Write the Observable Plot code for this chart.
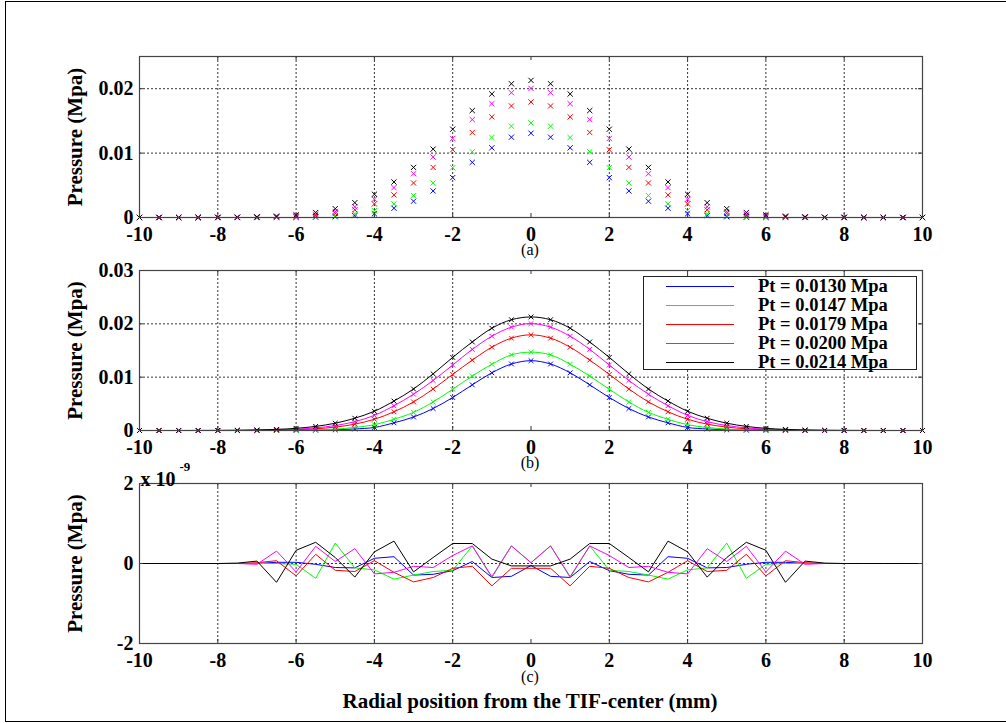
<!DOCTYPE html>
<html>
<head>
<meta charset="utf-8">
<script src="https://cdn.jsdelivr.net/npm/d3@7"></script>
<script src="https://cdn.jsdelivr.net/npm/@observablehq/plot@0.6"></script>
<style>
  body { margin: 0; background: #fff; }
  #fig { position: relative; width: 1006px; height: 723px; overflow: hidden; background: #fff;
         font-family: 'Liberation Serif', 'Times New Roman', serif; color: #000; }
  .panel { position: absolute; left: 0; }
  .lbl { position: absolute; left: 0; width: 1060px; text-align: center; white-space: nowrap; }
  #border { position: absolute; left: 5px; top: 1px; width: 1010px; height: 719px;
            border-top: 1.5px solid #000; border-left: 1.5px solid #000; border-bottom: 1.5px solid #000; }
  #legend { position: absolute; left: 643px; top: 276px; width: 274px; height: 94px; box-sizing: border-box;
            border: 1px solid #222; background: #fff; }
  .lrow { position: absolute; left: 0; height: 19px; width: 100%; }
  .lrow .sw { position: absolute; left: 22px; top: 9px; width: 68px; height: 0; border-top: 1px solid; }
  .lrow .tx { position: absolute; left: 114px; top: 0; font-size: 18.5px; font-weight: bold; line-height: 19px; }
</style>
</head>
<body>
<div id="fig">
  <div id="border"></div>
  <div id="pa" class="panel" style="top:0px"></div>
  <div id="pb" class="panel" style="top:250px"></div>
  <div id="pc" class="panel" style="top:450px"></div>
  <div class="lbl" style="top:244px;font-size:16px;line-height:12px;">(a)</div>
  <div class="lbl" style="top:457px;font-size:16px;line-height:12px;">(b)</div>
  <div class="lbl" style="top:671px;font-size:16px;line-height:12px;">(c)</div>
  <div class="lbl" style="top:690px;font-size:21px;font-weight:bold;line-height:22px;">Radial position from the TIF-center (mm)</div>
  <div id="legend"></div>
</div>
<script>
// ---------------- data ----------------
const radius = [-10, -9.5, -9, -8.5, -8, -7.5, -7, -6.5, -6, -5.5, -5, -4.5, -4, -3.5, -3, -2.5, -2, -1.5, -1, -0.5,
  0, 0.5, 1, 1.5, 2, 2.5, 3, 3.5, 4, 4.5, 5, 5.5, 6, 6.5, 7, 7.5, 8, 8.5, 9, 9.5, 10];

const seriesNames = ["Pt = 0.0130 Mpa", "Pt = 0.0147 Mpa", "Pt = 0.0179 Mpa", "Pt = 0.0200 Mpa", "Pt = 0.0214 Mpa"];
const seriesColors = ["#0000ff", "#00ff00", "#ff0000", "#ff00ff", "#000000"];

// Pressure (Mpa) for panels (a) and (b)
const p0130 = [0, 0, 0, 0, 0, 0, 0, 0, 0.00002, 0.00005, 0.00012, 0.00029, 0.00057, 0.00144, 0.00253, 0.00412, 0.00619, 0.00856, 0.01082, 0.01247,
  0.01309, 0.01247, 0.01082, 0.00856, 0.00619, 0.00412, 0.00253, 0.00144, 0.00057, 0.00029, 0.00012, 0.00005, 0.00002, 0, 0, 0, 0, 0, 0, 0, 0];
const p0147 = [0, 0, 0, 0, 0, 0, 0.00001, 0.00002, 0.00005, 0.00011, 0.00027, 0.00057, 0.00108, 0.00211, 0.00340, 0.00536, 0.00773, 0.01021, 0.01242, 0.01418,
  0.01469, 0.01418, 0.01242, 0.01021, 0.00773, 0.00536, 0.00340, 0.00211, 0.00108, 0.00057, 0.00027, 0.00011, 0.00005, 0.00002, 0.00001, 0, 0, 0, 0, 0, 0];
const p0179 = [0, 0, 0, 0, 0, 0.00001, 0.00003, 0.00006, 0.00015, 0.00032, 0.00064, 0.00119, 0.00211, 0.00351, 0.00536, 0.00778, 0.01052, 0.01320, 0.01562, 0.01732,
  0.01794, 0.01732, 0.01562, 0.01320, 0.01052, 0.00778, 0.00536, 0.00351, 0.00211, 0.00119, 0.00064, 0.00032, 0.00015, 0.00006, 0.00003, 0.00001, 0, 0, 0, 0, 0];
const p0200 = [0, 0, 0, 0, 0.00001, 0.00002, 0.00005, 0.00011, 0.00024, 0.00049, 0.00093, 0.00166, 0.00284, 0.00464, 0.00680, 0.00938, 0.01227, 0.01521, 0.01768, 0.01938,
  0.02005, 0.01938, 0.01768, 0.01521, 0.01227, 0.00938, 0.00680, 0.00464, 0.00284, 0.00166, 0.00093, 0.00049, 0.00024, 0.00011, 0.00005, 0.00002, 0.00001, 0, 0, 0, 0];
const p0214 = [0, 0, 0, 0.00001, 0.00002, 0.00004, 0.00010, 0.00021, 0.00041, 0.00077, 0.00137, 0.00230, 0.00361, 0.00552, 0.00778, 0.01062, 0.01371, 0.01660, 0.01918, 0.02077,
  0.02129, 0.02077, 0.01918, 0.01660, 0.01371, 0.01062, 0.00778, 0.00552, 0.00361, 0.00230, 0.00137, 0.00077, 0.00041, 0.00021, 0.00010, 0.00004, 0.00002, 0.00001, 0, 0, 0];

// Residuals for panel (c), in units of 1e-9 Mpa
const r0130 = [0, 0, 0, 0, 0, 0, 0, 0.03, 0.03, -0.02, -0.10, -0.11, 0.13, 0.17, -0.29, -0.27, -0.18, 0.05, -0.35, -0.32,
  -0.05, -0.32, -0.35, 0.05, -0.18, -0.27, -0.29, 0.17, 0.13, -0.11, -0.10, -0.02, 0.03, 0.03, 0, 0, 0, 0, 0, 0, 0];
const r0147 = [0, 0, 0, 0, 0, 0, 0, 0, -0.02, -0.37, 0.51, -0.11, -0.16, -0.39, -0.29, -0.20, -0.17, 0.44, -0.35, 0.44,
  0.02, 0.44, -0.35, 0.44, -0.17, -0.20, -0.29, -0.39, -0.16, -0.11, 0.51, -0.37, -0.02, 0, 0, 0, 0, 0, 0, 0, 0];
const r0179 = [0, 0, 0, 0, 0, 0, 0.02, 0.07, -0.31, 0.23, -0.17, -0.20, 0.07, -0.22, -0.46, -0.35, -0.12, -0.07, -0.56, -0.12,
  -0.12, -0.12, -0.56, -0.07, -0.12, -0.35, -0.46, -0.22, 0.07, -0.20, -0.17, 0.23, -0.31, 0.07, 0.02, 0, 0, 0, 0, 0, 0];
const r0200 = [0, 0, 0, 0, 0, 0, -0.02, 0.31, -0.21, 0.43, 0.05, 0.37, -0.26, -0.22, -0.07, -0.10, 0.20, 0.44, -0.33, 0.44,
  0.02, 0.44, -0.33, 0.44, 0.20, -0.10, -0.07, -0.22, -0.26, 0.37, 0.05, 0.43, -0.21, 0.31, -0.02, 0, 0, 0, 0, 0, 0];
const r0214 = [0, 0, 0, 0, 0, 0.01, 0.06, -0.47, 0.33, 0.53, 0.15, -0.34, 0.29, 0.56, -0.21, 0.15, 0.50, 0.50, 0.11, -0.06,
  -0.06, -0.06, 0.11, 0.50, 0.50, 0.15, -0.21, 0.56, 0.29, -0.34, 0.15, 0.53, 0.33, -0.47, 0.06, 0.01, 0, 0, 0, 0, 0];

const xTicks = [-10, -8, -6, -4, -2, 0, 2, 4, 6, 8, 10];
const xGrid = [-8, -6, -4, -2, 2, 4, 6, 8];
const yTicksA = [0, 0.01, 0.02];
const yTicksB = [0, 0.01, 0.02, 0.03];
const yTicksC = [-2, 0, 2];

const pressure = [p0130, p0147, p0179, p0200, p0214];
const residual = [r0130, r0147, r0179, r0200, r0214];

// ---------------- helpers ----------------
const W = 1006, ML = 139, MR = 84;
const FONT = "'Liberation Serif', 'Times New Roman', serif";
const toRows = (vals) => radius.map((x, i) => ({x, y: vals[i]}));
const gridStyle = {stroke: "#000", strokeOpacity: 0.8, strokeDasharray: "2,2", strokeWidth: 1};

function panel({height, mt, mb, yDomain, yTicks, yGrid, marks, extra = []}) {
  const innerH = height - mt - mb;
  const innerW = W - ML - MR;
  return Plot.plot({
    width: W, height,
    marginLeft: ML, marginRight: MR, marginTop: mt, marginBottom: mb,
    x: {domain: [-10, 10]},
    y: {domain: yDomain},
    style: {background: "transparent", fontFamily: FONT, fontWeight: "bold", fontSize: "20px", color: "#000", overflow: "visible"},
    marks: [
      Plot.ruleX(xGrid, {x: d => d, ...gridStyle}),
      Plot.ruleY(yGrid, {y: d => d, ...gridStyle}),
      ...marks,
      Plot.tickX(xTicks, {x: d => d, insetTop: innerH - 4, stroke: "#333"}),
      Plot.tickX(xTicks, {x: d => d, insetBottom: innerH - 4, stroke: "#333"}),
      Plot.tickY(yTicks, {y: d => d, insetRight: innerW - 4, stroke: "#333"}),
      Plot.tickY(yTicks, {y: d => d, insetLeft: innerW - 4, stroke: "#333"}),
      Plot.frame({stroke: "#444", strokeWidth: 1.2}),
      Plot.axisX(xTicks, {tickSize: 0, tickPadding: 9, tickFormat: d => String(d), fontSize: 20, fontWeight: "bold", label: null}),
      Plot.axisY(yTicks, {tickSize: 0, tickPadding: 6, tickFormat: d => String(d), fontSize: 20, fontWeight: "bold", label: null}),
      Plot.text(["Pressure (Mpa)"], {frameAnchor: "left", text: d => d, textAnchor: "middle", rotate: -90, dx: -64, fontSize: 21, fontWeight: "bold"}),
      ...extra
    ]
  });
}

// ---------------- panel (a) ----------------
const marksA = pressure.map((vals, k) =>
  Plot.dot(toRows(vals), {x: "x", y: "y", symbol: "times", r: 2.5, stroke: seriesColors[k], strokeWidth: 1}));
document.getElementById("pa").append(panel({
  height: 245, mt: 56, mb: 28, yDomain: [0, 0.025], yTicks: yTicksA, yGrid: [0.01, 0.02], marks: marksA
}));

// ---------------- panel (b) ----------------
const marksB = [];
pressure.forEach((vals, k) => {
  marksB.push(Plot.line(toRows(vals), {x: "x", y: "y", stroke: seriesColors[k], strokeWidth: 1, curve: "catmull-rom"}));
  marksB.push(Plot.dot(toRows(vals), {x: "x", y: "y", symbol: "times", r: 2.3, stroke: seriesColors[k], strokeWidth: 1}));
});
document.getElementById("pb").append(panel({
  height: 208, mt: 20, mb: 28, yDomain: [0, 0.03], yTicks: yTicksB, yGrid: [0.01, 0.02], marks: marksB
}));

// ---------------- panel (c) ----------------
const marksC = residual.map((vals, k) =>
  Plot.line(toRows(vals), {x: "x", y: "y", stroke: seriesColors[k], strokeWidth: 1}));
document.getElementById("pc").append(panel({
  height: 221, mt: 33, mb: 28, yDomain: [-2, 2], yTicks: yTicksC, yGrid: [0], marks: marksC,
  extra: [
    Plot.text(["x 10"], {frameAnchor: "top-left", text: d => d, textAnchor: "start", dx: 1, dy: -12, fontSize: 20, fontWeight: "bold"}),
    Plot.text(["-9"], {frameAnchor: "top-left", text: d => d, textAnchor: "start", dx: 40, dy: -22, fontSize: 13, fontWeight: "bold"})
  ]
}));

// ---------------- legend ----------------
const legend = document.getElementById("legend");
seriesNames.forEach((name, k) => {
  const row = document.createElement("div");
  row.className = "lrow";
  row.style.top = (k * 19) + "px";
  const sw = document.createElement("div");
  sw.className = "sw";
  sw.style.borderTopColor = seriesColors[k];
  const tx = document.createElement("div");
  tx.className = "tx";
  tx.textContent = name;
  row.append(sw, tx);
  legend.append(row);
});
</script>
</body>
</html>
